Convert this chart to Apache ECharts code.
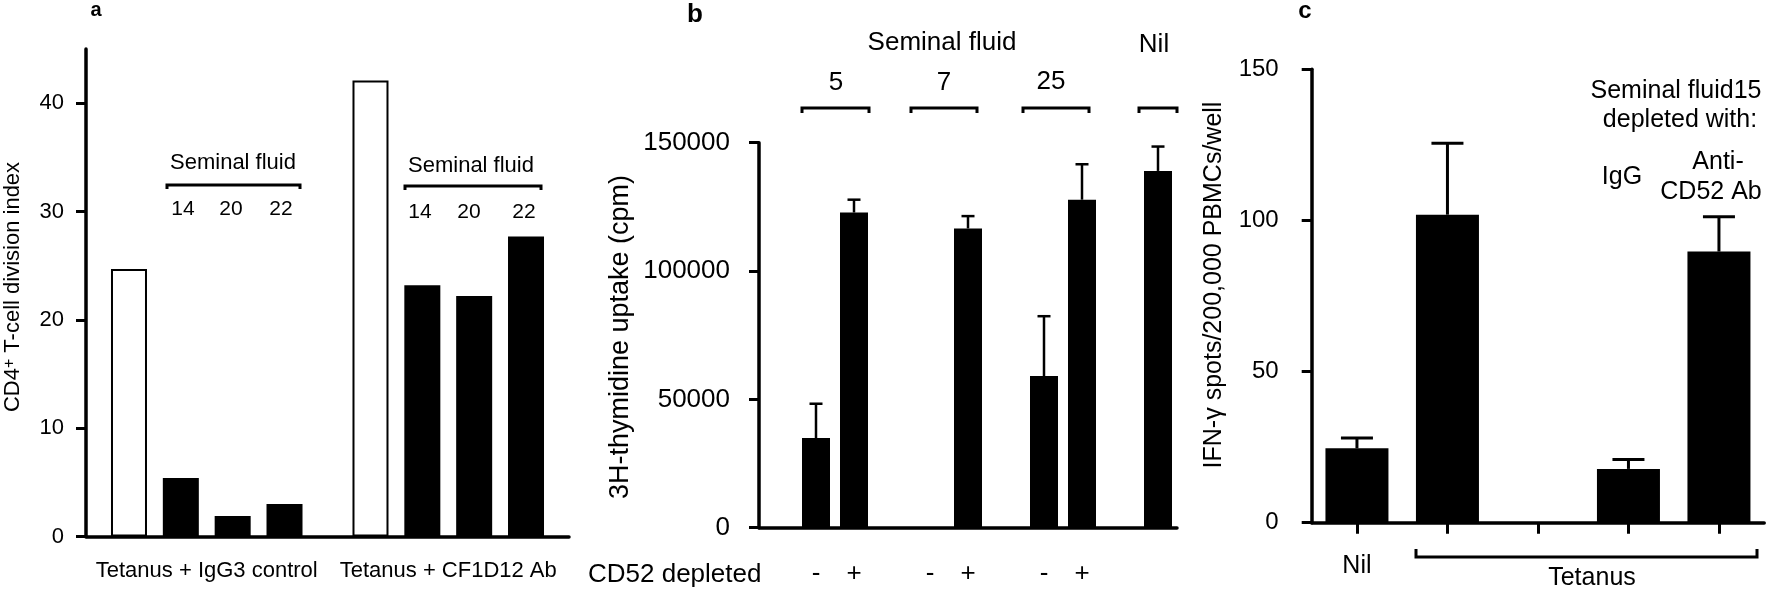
<!DOCTYPE html>
<html>
<head>
<meta charset="utf-8">
<script src="https://cdn.jsdelivr.net/npm/echarts@6/dist/echarts.min.js"></script>
<style>
  html, body { margin: 0; padding: 0; background: #fff; }
  #chart { width: 1772px; height: 591px; }
</style>
</head>
<body>
<div id="chart"></div>
<script>
const FONT = "'Liberation Sans', Arial, Helvetica, sans-serif";

// panel a
const aGroups = ["Tetanus + IgG3 control", "Tetanus + CF1D12 Ab"];
const aControl = [24.7, 42.1];
const aSF14 = [5.4, 23.2];
const aSF20 = [1.9, 22.2];
const aSF22 = [3.0, 27.7];
const aTicks = [0, 10, 20, 30, 40];

// panel b
const bSlots = ["", "5 -", "5 +", "", "7 -", "7 +", "", "25 -", "25 +", "", "Nil"];
const bSigns = ["", "-", "+", "", "-", "+", "", "-", "+", "", ""];
const bMean = [null, 34900, 122800, null, 0, 116600, null, 59100, 127800, null, 139000];
const bErr = [null, 48300, 127800, null, null, 121400, null, 82400, 141600, null, 148500];

// panel c
const cSlots = ["Nil", "Tetanus", "", "IgG", "Anti-CD52 Ab"];
const cLabels = ["Nil", "", "", "", ""];
const cMean = [24.6, 101.9, null, 17.8, 89.7];
const cErr = [28.0, 125.5, null, 20.9, 101.2];

const chart = echarts.init(document.getElementById("chart"));

function yAxis(gridIndex, max, interval, size, margin, ticks) {
  return {
    type: "value", gridIndex, min: 0, max, interval,
    axisLine: { show: true, lineStyle: { color: "#000", width: 3.5 } },
    axisTick: { show: true, length: 10, lineStyle: { color: "#000", width: 3 }, customValues: ticks },
    axisLabel: { color: "#000", fontSize: size, fontFamily: FONT, margin, customValues: ticks, formatter: v => String(v) },
    splitLine: { show: false },
  };
}

function xAxis(gridIndex, data, labels, size, margin, showTicks) {
  return {
    type: "category", gridIndex, data,
    axisLine: { show: true, lineStyle: { color: "#000", width: 3.5 } },
    axisTick: { show: showTicks, alignWithLabel: true, length: 11, lineStyle: { color: "#000", width: 3 } },
    axisLabel: {
      color: "#000", fontSize: size, fontFamily: FONT, margin, interval: 0,
      formatter: (v, i) => labels ? labels[i] : v,
    },
  };
}

function errBars(axisIndex, means, errs, cap, width) {
  const data = [];
  means.forEach((m, i) => { if (errs[i] != null) data.push([i, m, errs[i]]); });
  return {
    type: "custom", xAxisIndex: axisIndex, yAxisIndex: axisIndex, data, z: 1,
    encode: { x: 0, y: [1, 2] },
    renderItem: (params, api) => {
      const top = api.coord([api.value(0), api.value(2)]);
      const base = api.coord([api.value(0), api.value(1)]);
      const st = { stroke: "#000", lineWidth: width };
      return {
        type: "group",
        children: [
          { type: "line", shape: { x1: top[0], y1: top[1], x2: base[0], y2: base[1] }, style: st },
          { type: "line", shape: { x1: top[0] - cap, y1: top[1], x2: top[0] + cap, y2: top[1] }, style: st },
        ],
      };
    },
  };
}

function txt(text, x, y, size, extra) {
  return {
    type: "text", x, y,
    style: Object.assign({ text, fontSize: size, fontFamily: FONT, fill: "#000", align: "center", verticalAlign: "middle" }, extra || {}),
  };
}

function vtxt(text, x, y, size, rich) {
  return {
    type: "text", x, y, rotation: Math.PI / 2,
    style: { text, fontSize: size, fontFamily: FONT, fill: "#000", align: "center", verticalAlign: "middle", rich },
  };
}

function bracket(x1, x2, y, d) {
  return {
    type: "polyline",
    shape: { points: [[x1, y + d], [x1, y], [x2, y], [x2, y + d]] },
    style: { stroke: "#000", lineWidth: 3, fill: null },
  };
}

const blackBar = (name, data) => ({
  name, type: "bar", xAxisIndex: 0, yAxisIndex: 0, data,
  barWidth: 36, barGap: "44%", itemStyle: { color: "#000" },
});

chart.setOption({
  animation: false,
  backgroundColor: "#fff",
  textStyle: { fontFamily: FONT, color: "#000" },
  grid: [
    { left: 86, top: 49, width: 483, height: 487.6 },
    { left: 759, top: 142.7, width: 418, height: 385 },
    { left: 1311.7, top: 69.3, width: 452.5, height: 453.4 },
  ],
  xAxis: [
    xAxis(0, aGroups, null, 22, 23, false),
    xAxis(1, bSlots, bSigns, 26, 33, false),
    xAxis(2, cSlots, cLabels, 25, 31, true),
  ],
  yAxis: [
    yAxis(0, 45, 10, 22, 22, aTicks),
    yAxis(1, 150000, 50000, 26, 29),
    yAxis(2, 150, 50, 24, 33),
  ],
  series: [
    {
      name: "control", type: "bar", xAxisIndex: 0, yAxisIndex: 0, data: aControl,
      barWidth: 36, barGap: "44%", itemStyle: { color: "#fff", borderColor: "#000", borderWidth: 2 },
    },
    blackBar("14", aSF14),
    blackBar("20", aSF20),
    blackBar("22", aSF22),
    {
      type: "bar", xAxisIndex: 1, yAxisIndex: 1, data: bMean.map(v => v == null ? "-" : v),
      barWidth: 28, itemStyle: { color: "#000" }, z: 2,
    },
    errBars(1, bMean, bErr, 6.5, 2.5),
    {
      type: "bar", xAxisIndex: 2, yAxisIndex: 2, data: cMean.map(v => v == null ? "-" : v),
      barWidth: 63, itemStyle: { color: "#000" }, z: 2,
    },
    errBars(2, cMean, cErr, 16, 3),
  ],
  graphic: [
    // panel letters
    txt("a", 96, 10, 20, { fontWeight: "bold" }),
    txt("b", 695, 15, 26, { fontWeight: "bold" }),
    txt("c", 1305, 11, 24, { fontWeight: "bold" }),

    // panel a
    vtxt("CD4{sup|+} T-cell division index", 13, 287, 22, {
      sup: { fontSize: 16, verticalAlign: "top", lineHeight: 12 },
    }),
    txt("Seminal fluid", 233, 163, 22),
    bracket(167, 300, 185, 4),
    txt("14", 183, 209, 21), txt("20", 231, 209, 21), txt("22", 281, 209, 21),
    txt("Seminal fluid", 471, 166, 22),
    bracket(405, 541, 186, 4),
    txt("14", 420, 212, 21), txt("20", 469, 212, 21), txt("22", 524, 212, 21),

    // panel b
    vtxt("3H-thymidine uptake (cpm)", 621, 337, 27),
    txt("Seminal fluid", 942, 43, 26),
    txt("5", 836, 83, 26), txt("7", 944, 83, 26), txt("25", 1051, 82, 26), txt("Nil", 1154, 45, 26),
    bracket(802, 869, 108, 5), bracket(911, 977, 108, 5),
    bracket(1023, 1089, 108, 5), bracket(1139, 1177, 108, 5),
    txt("CD52 depleted", 588, 575, 26, { align: "left" }),

    // panel c
    vtxt("IFN-\u03b3 spots/200,000 PBMCs/well", 1214, 285, 25),
    txt("Seminal fluid15", 1676, 91, 25),
    txt("depleted with:", 1680, 120, 25),
    txt("IgG", 1622, 177, 25),
    txt("Anti-", 1718, 162, 25),
    txt("CD52 Ab", 1711, 192, 25),
    bracket(1416, 1757, 557, -8),
    txt("Tetanus", 1592, 578, 25),
  ],
});
</script>
</body>
</html>
